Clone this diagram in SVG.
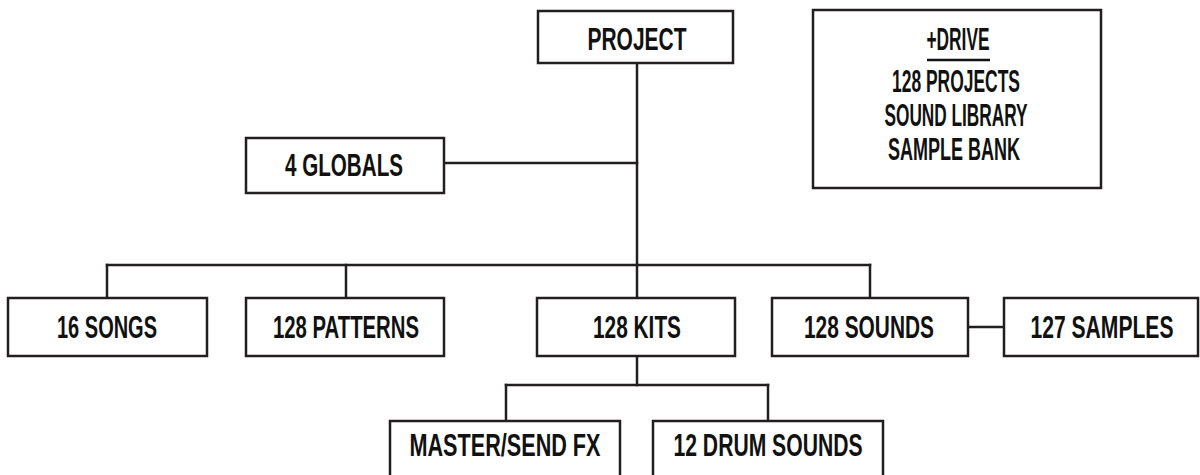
<svg xmlns="http://www.w3.org/2000/svg" width="1200" height="475" viewBox="0 0 1200 475">
<style>
  .box { fill: #ffffff; stroke: #231f20; stroke-width: 2.5; }
  .lbl { font-family: "Liberation Sans Narrow", "Liberation Sans", Arial, sans-serif; font-weight: bold; font-size: 32px; fill: #111111; text-anchor: middle; }
  .conn line { stroke: #231f20; stroke-width: 2.5; stroke-linecap: square; }
</style>
<rect width="1200" height="475" fill="#ffffff"/>
<g id="connectors" class="conn">
  <line x1="637" y1="63" x2="637" y2="265"/>
  <line x1="444" y1="163" x2="637" y2="163"/>
  <line x1="107" y1="265" x2="870" y2="265"/>
  <line x1="107" y1="265" x2="107" y2="298"/>
  <line x1="346" y1="265" x2="346" y2="298"/>
  <line x1="637" y1="265" x2="637" y2="298"/>
  <line x1="870" y1="265" x2="870" y2="298"/>
  <line x1="968" y1="327" x2="1004" y2="327"/>
  <line x1="637" y1="356" x2="637" y2="385"/>
  <line x1="506" y1="385" x2="768" y2="385"/>
  <line x1="506" y1="385" x2="506" y2="421"/>
  <line x1="768" y1="385" x2="768" y2="421"/>
</g>
<g id="project">
  <rect class="box" x="538" y="11" width="195" height="52"/>
  <text class="lbl" x="637" y="50" textLength="99" lengthAdjust="spacingAndGlyphs">PROJECT</text>
</g>
<g id="drive">
  <rect class="box" x="813" y="10" width="288" height="178"/>
  <text class="lbl" x="958" y="50" textLength="63" lengthAdjust="spacingAndGlyphs">+DRIVE</text>
  <line x1="927" y1="60" x2="990" y2="60" stroke="#111111" stroke-width="2.5"/>
  <text class="lbl" x="956" y="92" textLength="128" lengthAdjust="spacingAndGlyphs">128 PROJECTS</text>
  <text class="lbl" x="956" y="126" textLength="143" lengthAdjust="spacingAndGlyphs">SOUND LIBRARY</text>
  <text class="lbl" x="954" y="160" textLength="132" lengthAdjust="spacingAndGlyphs">SAMPLE BANK</text>
</g>
<g id="globals">
  <rect class="box" x="246" y="138" width="198" height="55"/>
  <text class="lbl" x="344" y="176" textLength="118" lengthAdjust="spacingAndGlyphs">4 GLOBALS</text>
</g>
<g id="songs">
  <rect class="box" x="8" y="298" width="199" height="58"/>
  <text class="lbl" x="107" y="338" textLength="100" lengthAdjust="spacingAndGlyphs">16 SONGS</text>
</g>
<g id="patterns">
  <rect class="box" x="246" y="298" width="198" height="58"/>
  <text class="lbl" x="346" y="338" textLength="146" lengthAdjust="spacingAndGlyphs">128 PATTERNS</text>
</g>
<g id="kits">
  <rect class="box" x="537" y="298" width="198" height="58"/>
  <text class="lbl" x="637" y="338" textLength="88" lengthAdjust="spacingAndGlyphs">128 KITS</text>
</g>
<g id="sounds">
  <rect class="box" x="772" y="298" width="196" height="58"/>
  <text class="lbl" x="869" y="338" textLength="130" lengthAdjust="spacingAndGlyphs">128 SOUNDS</text>
</g>
<g id="samples">
  <rect class="box" x="1004" y="298" width="194" height="58"/>
  <text class="lbl" x="1102" y="338" textLength="143" lengthAdjust="spacingAndGlyphs">127 SAMPLES</text>
</g>
<g id="master">
  <rect class="box" x="390" y="421" width="230" height="70"/>
  <text class="lbl" x="505" y="456" textLength="191" lengthAdjust="spacingAndGlyphs">MASTER/SEND FX</text>
</g>
<g id="drums">
  <rect class="box" x="653" y="421" width="230" height="70"/>
  <text class="lbl" x="768" y="456" textLength="189" lengthAdjust="spacingAndGlyphs">12 DRUM SOUNDS</text>
</g>
</svg>
